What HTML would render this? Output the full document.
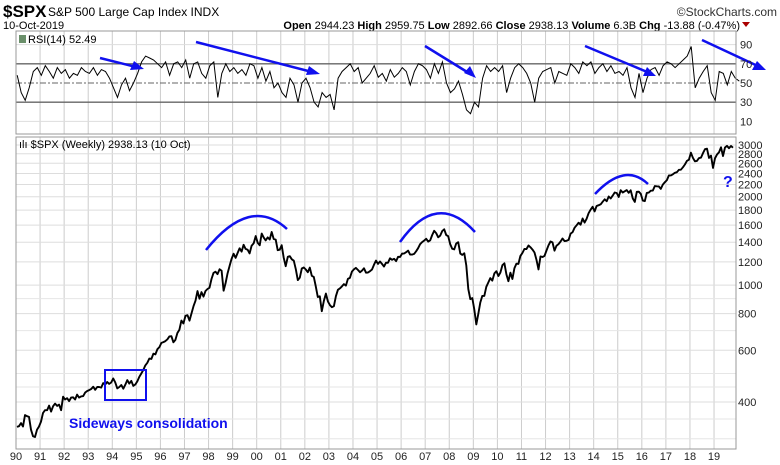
<!DOCTYPE html>
<html><head><meta charset="utf-8">
<style>
body{margin:0;background:#fff;font-family:"Liberation Sans",sans-serif;}
svg{display:block}
</style></head>
<body>
<svg id="chart" width="780" height="465" xmlns="http://www.w3.org/2000/svg" font-family="Liberation Sans, sans-serif">
<text x="3" y="17" font-size="17" font-weight="bold">$SPX</text>
<text x="48" y="16" font-size="12">S&amp;P 500 Large Cap Index  INDX</text>
<text x="3" y="29" font-size="11">10-Oct-2019</text>
<text x="777" y="16" font-size="12" text-anchor="end" fill="#333">©StockCharts.com</text>
<text x="740" y="29" font-size="11" text-anchor="end"><tspan font-weight="bold">Open</tspan> 2944.23 <tspan font-weight="bold">High</tspan> 2959.75 <tspan font-weight="bold">Low</tspan> 2892.66 <tspan font-weight="bold">Close</tspan> 2938.13 <tspan font-weight="bold">Volume</tspan> 6.3B <tspan font-weight="bold">Chg</tspan> -13.88 (-0.47%)</text>
<polygon points="742,22 750,22 746,27" fill="#a00"/>
<g id="grid"></g>
<g id="rsi"></g>
<g id="price"></g>
<rect x="16" y="31" width="720" height="103" fill="none" stroke="#999"/>
<rect x="16" y="137" width="720" height="312" fill="none" stroke="#999"/>
<text x="28" y="43" font-size="11">RSI(14) 52.49</text>
<rect x="19" y="35" width="7" height="8" fill="#6a8f6a"/>
<text x="19" y="148" font-size="11">ılı $SPX (Weekly) 2938.13 (10 Oct)</text>
<g id="annot" stroke="#1010ee" fill="none" stroke-width="2.5">
<path d="M100,58 L140,68"/>
<path d="M196,42 L316,73"/>
<path d="M425,46 L472,75"/>
<path d="M585,46 L652,74"/>
<path d="M702,40 L762,68"/>
<path d="M206,250 Q250,195 287,229"/>
<path d="M400,242 Q437,190 475,232"/>
<path d="M595,194 Q625,162 648,184"/>
<rect x="105" y="370" width="41" height="30" stroke-width="2"/>
</g>
<g fill="#1010ee">
<polygon points="144,69 130,70 134,61"/>
<polygon points="320,74 306,75 309,66"/>
<polygon points="476,78 464,73 470,66"/>
<polygon points="656,76 643,76 647,67"/>
<polygon points="766,70 752,70 757,61"/>
<text x="69" y="428" font-size="14" font-weight="bold">Sideways consolidation</text>
<text x="723" y="187" font-size="16" font-weight="bold">?</text>
</g>
<g id="axes" font-size="11" fill="#222"></g>
</svg>
<script>
const yearLabels=["90","91","92","93","94","95","96","97","98","99","00","01","02","03","04","05","06","07","08","09","10","11","12","13","14","15","16","17","18","19"];
const priceTicks=[3000,2800,2600,2400,2200,2000,1800,1600,1400,1200,1000,800,600,400];
const priceMinorGrid=[900,700,500,450,350,300];
const rsiTicks=[90,70,50,30,10];
const prices=[
329,331,339,330,361,358,356,322,306,304,322,330,
343,367,375,375,389,371,387,395,388,392,375,417,
408,412,403,414,415,408,424,414,418,419,431,436,
439,443,451,440,450,450,448,464,459,468,461,466,
481,467,445,450,457,444,458,475,462,472,454,459,
470,487,500,514,533,544,562,561,584,581,605,615,
636,640,645,654,669,670,639,651,687,705,757,740,
786,790,757,801,848,885,954,899,947,914,955,970,
980,1049,1101,1111,1090,1133,1120,957,1017,1098,1163,1229,
1279,1238,1286,1335,1301,1372,1328,1320,1282,1362,1388,1469,
1394,1366,1498,1452,1420,1454,1430,1517,1436,1429,1315,1320,
1366,1240,1160,1249,1255,1224,1211,1133,1040,1060,1139,1148,
1130,1107,1147,1076,1067,989,911,916,815,885,936,880,
855,841,848,917,964,975,990,1008,996,1050,1058,1112,
1131,1145,1126,1107,1121,1141,1102,1104,1115,1130,1174,1212,
1181,1204,1181,1157,1192,1191,1234,1220,1229,1207,1249,1248,
1280,1281,1295,1311,1270,1270,1277,1304,1336,1378,1401,1418,
1438,1407,1421,1482,1531,1503,1455,1474,1527,1549,1481,1468,
1379,1331,1323,1386,1400,1280,1267,1283,1166,969,896,903,
826,735,798,873,919,919,987,1021,1057,1036,1096,1115,
1074,1104,1169,1187,1089,1031,1102,1049,1141,1183,1181,1258,
1286,1327,1326,1364,1345,1321,1292,1219,1131,1253,1247,1258,
1312,1366,1408,1398,1310,1362,1379,1407,1441,1412,1416,1426,
1498,1515,1569,1598,1631,1606,1686,1633,1682,1757,1806,1848,
1783,1859,1872,1884,1924,1960,1931,2003,1972,2018,2068,2059,
1995,2105,2068,2086,2107,2063,2104,1972,1920,2079,2080,2044,
1940,1932,2060,2065,2097,2099,2174,2171,2168,2126,2199,2239,
2279,2364,2363,2384,2412,2423,2470,2472,2519,2575,2648,2674,
2824,2714,2641,2648,2705,2718,2816,2902,2914,2712,2760,2507,
2704,2784,2834,2946,2752,2942,2980,2926,2977,2938];
const rsiValues=[
58,40,32,45,62,66, 58,68,62,55,66,60, 64,55,60,58,66,62, 60,66,58,64,62,55,
45,35,48,55,42,50, 60,72,78,76,74,70, 66,72,58,70,72,66, 74,55,70,72,60,55,
68,72,35,60,70,62, 66,60,64,58,70,68, 55,66,52,62,45,50, 40,35,55,48,30,50,
55,45,30,25,40,35, 38,22,55,62,66,70, 62,66,50,55,60,68, 56,60,52,64,56,60,
66,62,48,62,70,68, 64,55,70,60,72,50, 40,44,52,38,22,18, 30,25,55,68,62,66,
62,68,40,55,66,70, 66,60,50,30,55,62, 64,66,50,62,60,58, 70,66,60,72,68,72,
60,66,70,62,68,60, 62,58,66,45,35,60, 40,55,64,66,58,68, 72,70,66,70,74,78,
88,45,55,62,68,40, 32,62,60,48,62,55,52];
const NS="http://www.w3.org/2000/svg";
const xOf=t=>16+(t-1990)*24.07;
const yPrice=p=>145+293.7*Math.log10(3000/p);
const yRsi=v=>83-(v-50)*0.96;
function mk(tag,attrs,parent){const e=document.createElementNS(NS,tag);for(const k in attrs)e.setAttribute(k,attrs[k]);document.getElementById(parent).appendChild(e);return e;}
yearLabels.forEach((lab,i)=>{
  const x=xOf(1990+i);
  const g1=mk('line',{x1:x,x2:x,y1:31,y2:134,stroke:'#ccc'},'grid');
  
  
  const g2=mk('line',{x1:x,x2:x,y1:137,y2:449,stroke:'#ccc'},'grid');
  
  
  const t=mk('text',{x:x,y:460,'text-anchor':'middle'},'axes');t.textContent=lab;
  
  
});
priceTicks.forEach(p=>{
  const y=yPrice(p);
  const l=mk('line',{x1:16,x2:736,y1:y,y2:y,stroke:'#ddd'},'grid');
  
  
  const t=mk('text',{x:738,y:y+4},'axes');t.textContent=p;
  
  
});
priceMinorGrid.forEach(p=>{
  const y=yPrice(p);
  if(y>449)return;
  const l=mk('line',{x1:16,x2:736,y1:y,y2:y,stroke:'#e6e6e6'},'grid');
  
  
});
rsiTicks.forEach(v=>{
  const y=yRsi(v);
  const strong=(v===30||v===70);
  const l=mk('line',{x1:16,x2:736,y1:y,y2:y,stroke:strong?'#666':(v===50?'#666':'#ddd'),'stroke-width':strong?1.3:1},'grid');
  if(v===50)l.setAttribute('stroke-dasharray','6,2,2,2');
  
  
  const t=mk('text',{x:740,y:y+4},'axes');t.textContent=v;
  
  
});
const rpts=rsiValues.map((v,i)=>xOf(1990+i/6+0.05).toFixed(1)+','+yRsi(v).toFixed(1)).join(' ');
const rl=mk('polyline',{points:rpts,fill:'none',stroke:'#000','stroke-width':1},'rsi');


const ppts=prices.map((p,i)=>xOf(1990+i/12+0.04).toFixed(1)+','+yPrice(p).toFixed(1)).join(' ');
const pl=mk('polyline',{points:ppts,fill:'none',stroke:'#000','stroke-width':1.9,'stroke-linejoin':'round'},'price');


</script>
</body></html>
